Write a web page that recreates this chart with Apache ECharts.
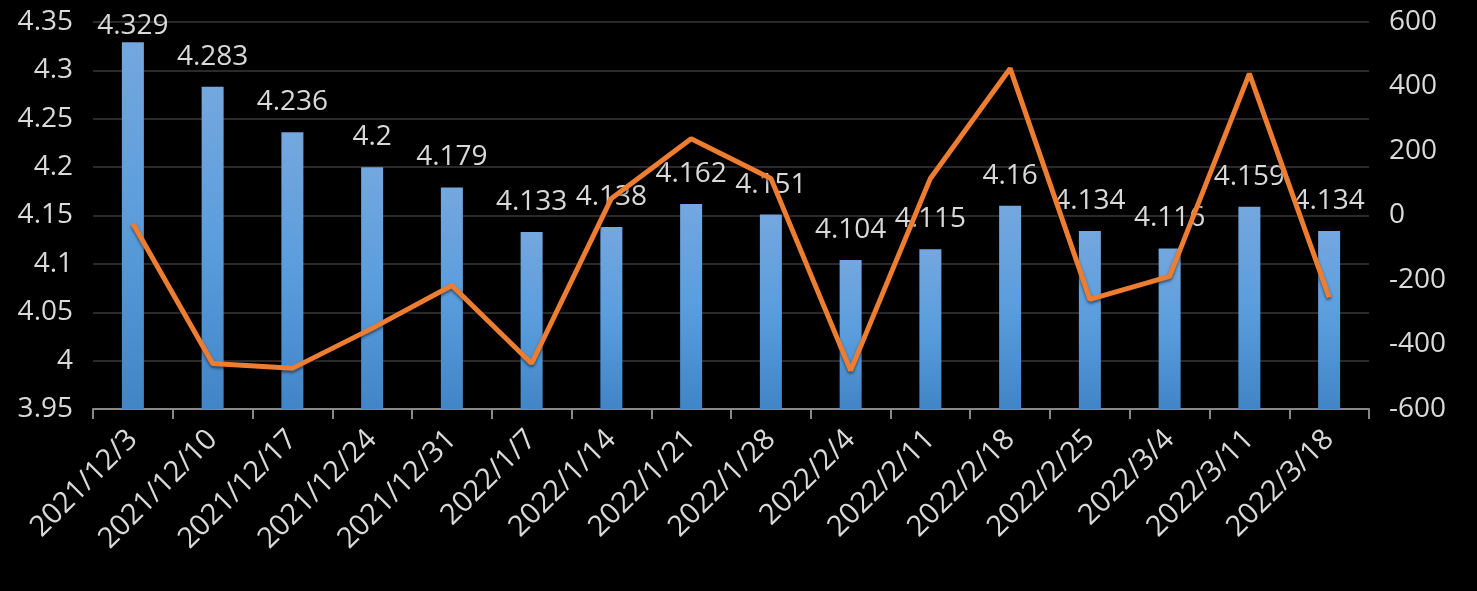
<!DOCTYPE html>
<html>
<head>
<meta charset="utf-8">
<script src="https://cdn.jsdelivr.net/npm/echarts@6/dist/echarts.min.js"></script>
<style>
html,body{margin:0;padding:0;background:#000;}
#chart{width:1477px;height:591px;}
</style>
</head>
<body>
<div id="chart"></div>
<script>
const categories = ["2021/12/3","2021/12/10","2021/12/17","2021/12/24","2021/12/31","2022/1/7","2022/1/14","2022/1/21","2022/1/28","2022/2/4","2022/2/11","2022/2/18","2022/2/25","2022/3/4","2022/3/11","2022/3/18"];
const barValues = [4.329,4.283,4.236,4.2,4.179,4.133,4.138,4.162,4.151,4.104,4.115,4.16,4.134,4.116,4.159,4.134];
const lineValues = [-25,-459,-474,-350,-217,-459,53,238,115,-481,115,456,-260,-189,440,-254];

const chart = echarts.init(document.getElementById('chart'));
const font = "'Open Sans', 'Noto Sans', sans-serif";
const txt = '#d9d9d9';
// the first label sits against the top of the plot, as in the reference
const barData = barValues.map((v, i) => i === 0 ? {value: v, label: {distance: 2}} : v);
chart.setOption({
  backgroundColor: '#000',
  animation: false,
  grid: {left: 93, right: 108, top: 22, bottom: 182},
  xAxis: {
    type: 'category',
    data: categories,
    axisLine: {onZero: false, lineStyle: {color: '#888', width: 2}},
    axisTick: {show: true, length: 10, lineStyle: {color: '#888', width: 2}},
    axisLabel: {rotate: 45, color: txt, fontSize: 29, fontFamily: font, margin: 26, interval: 0}
  },
  yAxis: [
    {
      type: 'value', min: 3.95, max: 4.35, interval: 0.05,
      axisLine: {show: false}, axisTick: {show: false},
      axisLabel: {color: txt, fontSize: 28, fontFamily: font, margin: 20,
        formatter: v => String(Math.round(v * 100) / 100)},
      splitLine: {lineStyle: {color: '#2a2a2a', width: 2}}
    },
    {
      type: 'value', min: -600, max: 600, interval: 200,
      axisLine: {show: false}, axisTick: {show: false},
      axisLabel: {color: txt, fontSize: 28, fontFamily: font, margin: 20},
      splitLine: {show: false}
    }
  ],
  series: [
    {
      type: 'bar', yAxisIndex: 0, data: barData, barWidth: 22,
      itemStyle: {color: new echarts.graphic.LinearGradient(0, 0, 0, 1, [
        {offset: 0, color: '#74a7de'}, {offset: 0.5, color: '#5a9ddd'}, {offset: 1, color: '#4285c6'}])},
      label: {show: true, position: 'top', distance: 16, color: txt, fontSize: 28, fontFamily: font}
    },
    {
      type: 'line', yAxisIndex: 1, data: lineValues, symbol: 'none',
      lineStyle: {color: '#ed7d31', width: 5, shadowColor: 'rgba(0,0,0,0.5)', shadowBlur: 3, shadowOffsetY: 2},
      z: 3
    }
  ]
});
</script>
</body>
</html>
